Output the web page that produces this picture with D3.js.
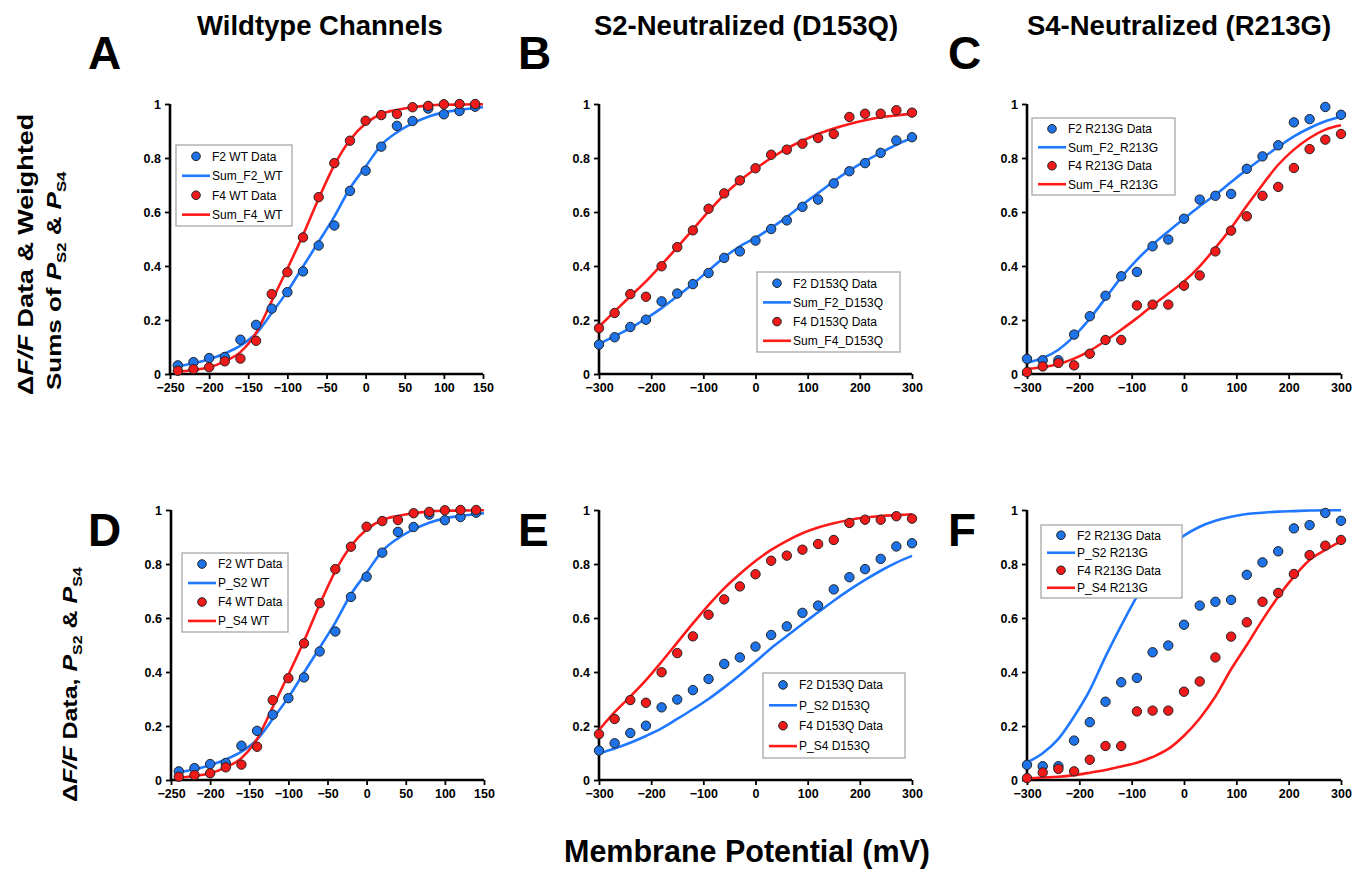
<!DOCTYPE html>
<html><head><meta charset="utf-8">
<script src="https://cdn.jsdelivr.net/npm/d3@7"></script>
<style>
body{margin:0;background:#fff}
text{font-family:"Liberation Sans",Arial,Helvetica,sans-serif}
</style>
</head><body>
<svg id="chart" width="1368" height="869"></svg>
<script>
// ---------- DATA ----------
// Wildtype (panels A, D)
const wtV = [-240,-220,-200,-180,-160,-140,-120,-100,-80,-60,-40,-20,0,20,40,60,80,100,120,140];
const wtF2 = [0.032,0.044,0.059,0.063,0.127,0.182,0.242,0.303,0.380,0.476,0.550,0.678,0.753,0.842,0.919,0.937,0.983,0.962,0.974,0.990];
const wtF4 = [0.012,0.018,0.025,0.047,0.057,0.123,0.296,0.377,0.506,0.655,0.781,0.864,0.938,0.959,0.963,0.988,0.993,0.999,1.000,1.000];
const wtCurveV = [-245,-220,-200,-180,-160,-140,-120,-100,-80,-60,-40,-20,0,20,40,60,80,100,120,150];
const wtSumF2 = [0.025,0.040,0.055,0.076,0.105,0.150,0.226,0.306,0.398,0.490,0.583,0.688,0.768,0.848,0.895,0.928,0.953,0.969,0.978,0.988];
const wtSumF4 = [0.008,0.015,0.025,0.047,0.081,0.152,0.270,0.390,0.515,0.650,0.774,0.867,0.928,0.963,0.978,0.988,0.994,0.997,0.998,0.999];
const wtPS2 = [0.025,0.040,0.055,0.076,0.105,0.150,0.226,0.306,0.398,0.490,0.583,0.688,0.768,0.848,0.895,0.928,0.953,0.969,0.978,0.988];
const wtPS4 = [0.008,0.015,0.025,0.047,0.081,0.152,0.270,0.390,0.515,0.650,0.774,0.867,0.928,0.963,0.978,0.988,0.994,0.997,0.998,0.999];

// Mutants (panels B, C, E, F)
const mutV = [-300,-270,-240,-210,-180,-150,-120,-90,-60,-30,0,30,60,90,120,150,180,210,240,270,300];
const dF2 = [0.109,0.136,0.174,0.201,0.269,0.298,0.333,0.374,0.430,0.454,0.494,0.537,0.569,0.619,0.646,0.706,0.751,0.781,0.819,0.865,0.877];
const dF4 = [0.170,0.226,0.296,0.286,0.399,0.470,0.532,0.612,0.669,0.717,0.762,0.812,0.831,0.853,0.874,0.889,0.952,0.964,0.964,0.977,0.968];
const dSumF2 = [0.111,0.140,0.170,0.205,0.244,0.288,0.333,0.383,0.432,0.473,0.504,0.541,0.581,0.627,0.670,0.714,0.753,0.788,0.819,0.849,0.874];
const dSumF4 = [0.175,0.232,0.288,0.343,0.405,0.469,0.535,0.602,0.664,0.716,0.760,0.800,0.835,0.864,0.889,0.909,0.926,0.940,0.951,0.958,0.964];
const dPS2 = [0.099,0.117,0.138,0.163,0.191,0.226,0.262,0.300,0.343,0.389,0.438,0.488,0.533,0.578,0.621,0.664,0.704,0.741,0.775,0.805,0.830];
const dPS4 = [0.185,0.251,0.309,0.370,0.438,0.509,0.580,0.648,0.710,0.763,0.811,0.852,0.886,0.914,0.935,0.951,0.963,0.972,0.978,0.981,0.984];

const rF2 = [0.056,0.051,0.051,0.146,0.214,0.290,0.362,0.378,0.473,0.498,0.575,0.646,0.660,0.667,0.760,0.806,0.847,0.932,0.944,0.989,0.960];
const rF4 = [0.007,0.028,0.041,0.032,0.075,0.126,0.126,0.254,0.257,0.257,0.327,0.365,0.454,0.531,0.584,0.660,0.693,0.763,0.833,0.868,0.889];
const rSumF2 = [0.041,0.059,0.090,0.140,0.205,0.281,0.358,0.423,0.479,0.528,0.575,0.621,0.664,0.711,0.757,0.800,0.841,0.880,0.911,0.936,0.954];
const rSumF4 = [0.019,0.025,0.037,0.057,0.086,0.123,0.164,0.207,0.254,0.298,0.343,0.399,0.467,0.541,0.623,0.701,0.775,0.831,0.874,0.905,0.921];
const rPS2 = [0.065,0.099,0.152,0.235,0.333,0.457,0.572,0.680,0.780,0.860,0.905,0.938,0.960,0.975,0.985,0.990,0.994,0.996,0.998,0.999,0.999];
const rPS4 = [0.006,0.009,0.012,0.018,0.027,0.037,0.050,0.064,0.085,0.115,0.164,0.228,0.309,0.410,0.500,0.593,0.679,0.753,0.815,0.852,0.885];

const wtXTicks = [-250,-200,-150,-100,-50,0,50,100,150];
const mutXTicks = [-300,-200,-100,0,100,200,300];
const yTicks = [0,0.2,0.4,0.6,0.8,1];

const titles = ["Wildtype Channels","S2-Neutralized (D153Q)","S4-Neutralized (R213G)"];
const xTitle = "Membrane Potential (mV)";

// ---------- STYLE ----------
const BLUE_DOT = "#1e73e8", RED_DOT = "#f01a1a";
const BLUE_LINE = "#1f78ff", RED_LINE = "#ff1a1a";

const svg = d3.select("#chart");

const panels = [
  {letter:"A", lx:88, ly:69, x0:170, x1:483, y0:374, y1:104, dom:[-250,150], ticks:wtXTicks,
   dV:wtV, d2:wtF2, d4:wtF4, cV:wtCurveV, c2:wtSumF2, c4:wtSumF4,
   labels:["F2 WT Data","Sum_F2_WT","F4 WT Data","Sum_F4_WT"], leg:{x:176,y:145,w:116,h:81}},
  {letter:"B", lx:518, ly:69, x0:599, x1:912, y0:374, y1:104, dom:[-300,300], ticks:mutXTicks,
   dV:mutV, d2:dF2, d4:dF4, cV:mutV, c2:dSumF2, c4:dSumF4,
   labels:["F2 D153Q Data","Sum_F2_D153Q","F4 D153Q Data","Sum_F4_D153Q"], leg:{x:757,y:272,w:143,h:80}},
  {letter:"C", lx:948, ly:69, x0:1027, x1:1341, y0:374, y1:104, dom:[-300,300], ticks:mutXTicks,
   dV:mutV, d2:rF2, d4:rF4, cV:mutV, c2:rSumF2, c4:rSumF4,
   labels:["F2 R213G Data","Sum_F2_R213G","F4 R213G Data","Sum_F4_R213G"], leg:{x:1032,y:118,w:143,h:77}},
  {letter:"D", lx:88, ly:546, x0:171, x1:484, y0:780, y1:510, dom:[-250,150], ticks:wtXTicks,
   dV:wtV, d2:wtF2, d4:wtF4, cV:wtCurveV, c2:wtPS2, c4:wtPS4,
   labels:["F2 WT Data","P_S2 WT","F4 WT Data","P_S4 WT"], leg:{x:182,y:553,w:106,h:79}},
  {letter:"E", lx:518, ly:546, x0:599, x1:912, y0:780, y1:510, dom:[-300,300], ticks:mutXTicks,
   dV:mutV, d2:dF2, d4:dF4, cV:mutV, c2:dPS2, c4:dPS4,
   labels:["F2 D153Q Data","P_S2 D153Q","F4 D153Q Data","P_S4 D153Q"], leg:{x:763,y:673,w:142,h:85}},
  {letter:"F", lx:948, ly:546, x0:1027, x1:1341, y0:780, y1:510, dom:[-300,300], ticks:mutXTicks,
   dV:mutV, d2:rF2, d4:rF4, cV:mutV, c2:rPS2, c4:rPS4,
   labels:["F2 R213G Data","P_S2 R213G","F4 R213G Data","P_S4 R213G"], leg:{x:1041,y:525,w:141,h:73}}
];

const fmtY = d => d===0 ? "0" : d===1 ? "1" : d.toFixed(1);

panels.forEach(p => {
  const x = d3.scaleLinear().domain(p.dom).range([p.x0, p.x1]);
  const y = d3.scaleLinear().domain([0,1]).range([p.y0, p.y1]);
  const g = svg.append("g");

  // axes
  const xa = g.append("g").attr("transform",`translate(0,${p.y0})`)
    .call(d3.axisBottom(x).tickValues(p.ticks).tickSize(5).tickPadding(4).tickFormat(d3.format("d")));
  const ya = g.append("g").attr("transform",`translate(${p.x0},0)`)
    .call(d3.axisLeft(y).tickValues(yTicks).tickSize(5).tickPadding(4).tickFormat(fmtY));
  [xa,ya].forEach(a => {
    a.select(".domain").attr("stroke","#000").attr("stroke-width",2.6);
    a.selectAll(".tick line").attr("stroke","#000").attr("stroke-width",1.8);
    a.selectAll(".tick text").attr("fill","#000").attr("font-size",12.5).attr("font-weight","bold")
      .style("font-family","'Liberation Sans',Arial,sans-serif");
  });
  xa.select(".domain").attr("d",`M${p.x0},0H${p.x1}`);
  ya.select(".domain").attr("d",`M0,${p.y0}V${p.y1}`);

  // curves
  const line = d3.line().x(d=>x(d[0])).y(d=>y(d[1])).curve(d3.curveMonotoneX);
  g.append("path").datum(p.cV.map((v,i)=>[v,p.c2[i]])).attr("d",line)
    .attr("fill","none").attr("stroke",BLUE_LINE).attr("stroke-width",2.6);
  g.append("path").datum(p.cV.map((v,i)=>[v,p.c4[i]])).attr("d",line)
    .attr("fill","none").attr("stroke",RED_LINE).attr("stroke-width",2.6);

  // dots
  g.append("g").selectAll("circle").data(p.dV.map((v,i)=>[v,p.d2[i]])).join("circle")
    .attr("cx",d=>x(d[0])).attr("cy",d=>y(d[1])).attr("r",4.7)
    .attr("fill",BLUE_DOT).attr("stroke","#222").attr("stroke-width",1);
  g.append("g").selectAll("circle").data(p.dV.map((v,i)=>[v,p.d4[i]])).join("circle")
    .attr("cx",d=>x(d[0])).attr("cy",d=>y(d[1])).attr("r",4.7)
    .attr("fill",RED_DOT).attr("stroke","#222").attr("stroke-width",1);

  // legend
  const L = p.leg;
  const lg = g.append("g");
  lg.append("rect").attr("x",L.x).attr("y",L.y).attr("width",L.w).attr("height",L.h)
    .attr("fill","#fff").attr("stroke","#a0a0a0").attr("stroke-width",1.2);
  const types = [["dot",BLUE_DOT],["line",BLUE_LINE],["dot",RED_DOT],["line",RED_LINE]];
  types.forEach((t,i) => {
    const cy = L.y + L.h*(0.14 + i*0.24);
    const lx0 = L.x + 6, lx1 = L.x + 34;
    if (t[0]==="dot") {
      lg.append("circle").attr("cx",(lx0+lx1)/2).attr("cy",cy).attr("r",4.3)
        .attr("fill",t[1]).attr("stroke","#222").attr("stroke-width",1);
    } else {
      lg.append("line").attr("x1",lx0).attr("x2",lx1).attr("y1",cy).attr("y2",cy)
        .attr("stroke",t[1]).attr("stroke-width",2.6);
    }
    lg.append("text").attr("x",lx1+2).attr("y",cy).attr("dy","0.36em")
      .attr("font-size",12).attr("fill","#000").text(p.labels[i]);
  });

  // panel letter
  svg.append("text").attr("x",p.lx).attr("y",p.ly).attr("font-size",46).attr("font-weight","bold")
    .text(p.letter);
});

// titles
[320,746,1179].forEach((cx,i) => {
  svg.append("text").attr("x",cx).attr("y",35).attr("text-anchor","middle")
    .attr("font-size",27.5).attr("font-weight","bold").text(titles[i]);
});

// x title
svg.append("text").attr("x",747).attr("y",862).attr("text-anchor","middle")
  .attr("font-size",30.5).attr("font-weight","bold").text(xTitle);

// y labels
function yLabel(x, yStart, size, parts) {
  const t = svg.append("text").attr("transform",`translate(${x},${yStart}) scale(0.8,1) rotate(-90)`)
    .attr("font-size",size).attr("font-weight","bold");
  parts.forEach(pt => {
    const s = t.append("tspan").text(pt.t);
    if (pt.i) s.attr("font-style","italic");
    if (pt.sub) s.attr("font-size",size*0.64).attr("dy",6);
    if (pt.up) s.attr("dy",-6);
  });
}
yLabel(33, 395, 27, [{t:"Δ"},{t:"F/F",i:true},{t:" Data & Weighted"}]);
yLabel(61, 390, 26, [{t:"Sums of "},{t:"P",i:true},{t:"S2",sub:true},{t:" & ",up:true},{t:"P",i:true},{t:"S4",sub:true}]);
yLabel(77, 802, 25, [{t:"Δ"},{t:"F/F",i:true},{t:" Data, "},{t:"P",i:true},{t:"S2",sub:true},{t:" & ",up:true},{t:"P",i:true},{t:"S4",sub:true}]);
</script>
</body></html>
